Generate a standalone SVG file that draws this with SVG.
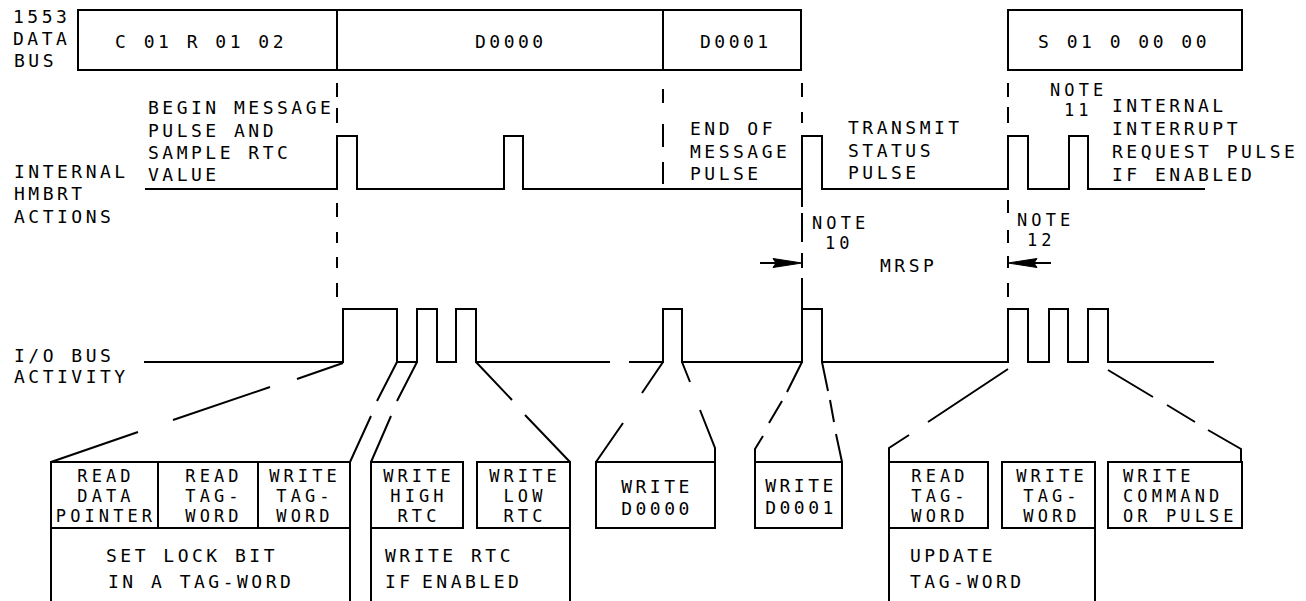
<svg xmlns="http://www.w3.org/2000/svg" width="1306" height="601" viewBox="0 0 1306 601">
<style>
.t{font-family:"DejaVu Sans Mono","Liberation Mono",monospace;font-size:18px;letter-spacing:3.5px;fill:#000}
.k{font-size:17px;letter-spacing:4.1px}
.m{text-anchor:middle}
.s{fill:none;stroke:#000;stroke-width:2}
</style>
<rect width="1306" height="601" fill="#fff"/>
<g id="labels-left">
<text class="t" x="13" y="23">1553</text>
<text class="t" x="13" y="45">DATA</text>
<text class="t" x="14" y="67">BUS</text>
<text class="t" x="14" y="178">INTERNAL</text>
<text class="t" x="14" y="200">HMBRT</text>
<text class="t" x="14" y="223">ACTIONS</text>
<text class="t" x="14" y="362">I/O BUS</text>
<text class="t" x="14" y="383">ACTIVITY</text>
</g>
<g id="databus">
<rect class="s" x="78" y="10" width="723" height="60"/>
<path class="s" d="M337,10V70M663,10V70"/>
<text class="t" x="115" y="48">C 01 R 01 02</text>
<text class="t" x="475" y="48">D0000</text>
<text class="t" x="700" y="48">D0001</text>
</g>
<g id="status">
<rect class="s" x="1008" y="10" width="234" height="60"/>
<text class="t" x="1038" y="48">S 01 0 00 00</text>
</g>
<g id="annotations">
<text class="t" x="148" y="114">BEGIN MESSAGE</text>
<text class="t" x="148" y="137">PULSE AND</text>
<text class="t" x="148" y="159">SAMPLE RTC</text>
<text class="t" x="148" y="181">VALUE</text>
<text class="t" x="690" y="135">END OF</text>
<text class="t" x="690" y="158">MESSAGE</text>
<text class="t" x="690" y="180">PULSE</text>
<text class="t" x="848" y="134">TRANSMIT</text>
<text class="t" x="848" y="157">STATUS</text>
<text class="t" x="848" y="179">PULSE</text>
<text class="t k" x="1050" y="96">NOTE</text>
<text class="t k" x="1064" y="116">11</text>
<text class="t" x="1112" y="112">INTERNAL</text>
<text class="t" x="1112" y="135">INTERRUPT</text>
<text class="t" x="1112" y="158">REQUEST PULSE</text>
<text class="t" x="1112" y="181">IF ENABLED</text>
<text class="t k" x="812" y="229">NOTE</text>
<text class="t k" x="825" y="249">10</text>
<text class="t k" x="1017" y="226">NOTE</text>
<text class="t k" x="1027" y="246">12</text>
<text class="t" x="880" y="272">MRSP</text>
</g>
<g id="connectors">
<polyline class="s" points="145,189 337,189 337,136 357,136 357,189 504,189 504,136 523,136 523,189 802,189 802,136 822,136 822,189 1008,189 1008,136 1028,136 1028,189 1069,189 1069,136 1088,136 1088,189 1205,189"/>
<polyline class="s" points="144,362 343,362 343,309 397,309 397,362 417,362 417,309 437,309 437,362 456,362 456,309 476,309 476,362 610,362"/>
<polyline class="s" points="629,362 663,362 663,309 682,309 682,362 802,362 802,309 822,309 822,362 1008,362 1008,309 1028,309 1028,362 1049,362 1049,309 1068,309 1068,362 1088,362 1088,309 1108,309 1108,362 1214,362"/>
<path class="s" d="M337,83V97M337,108V123M337,203V217M337,232V243M337,257V268M337,283V297"/>
<path class="s" d="M663,89V103M663,124V147M663,162V184"/>
<path class="s" d="M802,83V97M802,112V123M802,189V207M802,213V242M802,253V268M802,278V309"/>
<path class="s" d="M1008,83V97M1008,107V123M1008,200V213M1008,230V243M1008,256V268M1008,283V297"/>
<path class="s" d="M760,263H780M1030,263H1051"/>
<polygon points="802,263 773,258.5 776,263 773,267.5" fill="#000" stroke="#000" stroke-width="1"/>
<polygon points="1008,263 1037,258.5 1034,263 1037,267.5" fill="#000" stroke="#000" stroke-width="1"/>
<path class="s" d="M343,363L297,379M270,387L173,420M138,432L51,462"/>
<path class="s" d="M397,362L377,401M371,416L350,462M417,362L397,401M391,416L371,462"/>
<path class="s" d="M476,362L512,400M525,415L570,462"/>
<path class="s" d="M663,362L642,393M623,423L596,462M682,362L690,382M700,410L715,448V462"/>
<path class="s" d="M802,362L787,392M782,401L769,423M763,436L755,449V462M822,362L828,391M830,400L834,422M836,434L842,462"/>
<path class="s" d="M1008,369L928,422M909,435L889,448V462M1108,370L1153,397M1167,405L1195,422M1208,430L1241,449V462"/>
</g>
<g id="box-lock">
<path class="s" d="M51,601V462H350V601M51,528H350M158,462V528M258,462V528"/>
<text class="t k m" x="106" y="482">READ</text>
<text class="t k m" x="106" y="502">DATA</text>
<text class="t k m" x="106" y="522">POINTER</text>
<text class="t k m" x="214" y="482">READ</text>
<text class="t k m" x="214" y="502">TAG-</text>
<text class="t k m" x="214" y="522">WORD</text>
<text class="t k m" x="305" y="482">WRITE</text>
<text class="t k m" x="305" y="502">TAG-</text>
<text class="t k m" x="305" y="522">WORD</text>
<text class="t" x="106" y="562">SET LOCK BIT</text>
<text class="t" x="108" y="588">IN A TAG-WORD</text>
</g>
<g id="box-rtc">
<rect class="s" x="371" y="462" width="92" height="66"/>
<rect class="s" x="477" y="462" width="93" height="66"/>
<path class="s" d="M371,528V601M570,528V601"/>
<text class="t k m" x="419" y="482">WRITE</text>
<text class="t k m" x="419" y="502">HIGH</text>
<text class="t k m" x="419" y="522">RTC</text>
<text class="t k m" x="525" y="482">WRITE</text>
<text class="t k m" x="525" y="502">LOW</text>
<text class="t k m" x="525" y="522">RTC</text>
<text class="t" x="385" y="562">WRITE RTC</text>
<text class="t" x="385" y="588" word-spacing="-6">IF ENABLED</text>
</g>
<g id="box-d0000">
<rect class="s" x="596" y="462" width="119" height="66"/>
<text class="t m" x="657" y="493">WRITE</text>
<text class="t m" x="657" y="515">D0000</text>
</g>
<g id="box-d0001">
<rect class="s" x="755" y="462" width="87" height="66"/>
<text class="t m" x="801" y="492">WRITE</text>
<text class="t m" x="801" y="514">D0001</text>
</g>
<g id="box-update">
<rect class="s" x="889" y="462" width="99" height="66"/>
<rect class="s" x="1002" y="462" width="93" height="66"/>
<path class="s" d="M889,528V601M1095,528V601"/>
<text class="t k m" x="940" y="482">READ</text>
<text class="t k m" x="940" y="502">TAG-</text>
<text class="t k m" x="940" y="522">WORD</text>
<text class="t k m" x="1052" y="482">WRITE</text>
<text class="t k m" x="1052" y="502">TAG-</text>
<text class="t k m" x="1052" y="522">WORD</text>
<text class="t" x="910" y="562">UPDATE</text>
<text class="t" x="910" y="588">TAG-WORD</text>
</g>
<g id="box-command">
<rect class="s" x="1108" y="462" width="134" height="66"/>
<text class="t k" x="1123" y="482">WRITE</text>
<text class="t k" x="1123" y="502">COMMAND</text>
<text class="t k" x="1123" y="522">OR PULSE</text>
</g>
</svg>
